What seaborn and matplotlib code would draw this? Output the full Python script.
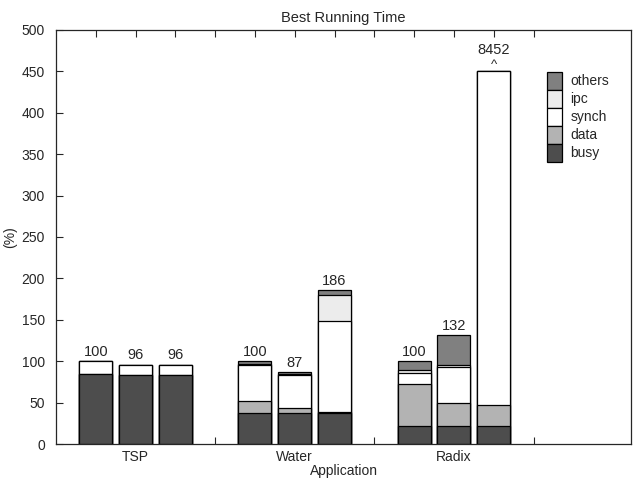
import matplotlib
matplotlib.use("Agg")
import matplotlib.pyplot as plt
import seaborn as sns
import numpy as np
import pandas as pd
from matplotlib.patches import Patch

apps = ["TSP", "Water", "Radix"]
slots = [1, 2, 3, 5, 6, 7, 9, 10, 11]
busy = [85, 83, 83, 37, 37, 37, 22, 22, 22]
data = [0, 0, 0, 15, 6, 2, 51, 28, 25]
synch = [15, 13, 13, 43, 40, 110, 13, 43, 8405]
ipc = [0, 0, 0, 2, 1, 31, 3, 3, 0]
others = [0, 0, 0, 3, 3, 6, 11, 36, 0]
totals = ["100", "96", "96", "100", "87", "186", "100", "132", "8452"]
cap = 450

sns.set_style("ticks")
plt.rcParams["font.family"] = ["Liberation Sans", "DejaVu Sans"]

fig = plt.figure(figsize=(6.35, 4.83), dpi=100)
ax = fig.add_axes([56/635, 1-444/483, (631-56)/635, (444-30)/483])

df = pd.DataFrame({"slot": slots, "busy": busy, "data": data, "synch": synch,
                   "ipc": ipc, "others": others})
layers = ["busy", "data", "synch", "ipc", "others"]
colors = {"busy": "#4d4d4d", "data": "#b3b3b3", "synch": "#ffffff",
          "ipc": "#ececec", "others": "#808080"}
cum = df[layers].cumsum(axis=1).clip(upper=cap)

# draw from the top layer down so lower segments sit on top
for name in layers[::-1]:
    sns.barplot(x=df["slot"], y=cum[name], native_scale=True, width=0.83,
                color=colors[name], saturation=1, edgecolor="black",
                linewidth=0.9, errorbar=None, ax=ax)

tops = cum["others"].values
for s, t, lab in zip(slots, tops, totals):
    if lab == "8452":
        ax.annotate("^", (s, t), xytext=(0, 0), textcoords="offset points",
                    ha="center", va="bottom", fontsize=9.5)
        ax.annotate(lab, (s, t), xytext=(0, 10.5), textcoords="offset points",
                    ha="center", va="bottom", fontsize=10.5)
    else:
        ax.annotate(lab, (s, t), xytext=(0, 1.5), textcoords="offset points",
                    ha="center", va="bottom", fontsize=10.5)

ax.set_xlim(0, 14.45)
ax.set_ylim(0, 500)
ax.set_xticks(range(1, 13))
xlabels = [""] * 12
xlabels[1], xlabels[5], xlabels[9] = apps
ax.set_xticklabels(xlabels, fontsize=10)
ax.set_yticks(range(0, 501, 50))
ax.tick_params(axis="x", direction="in", top=True, bottom=True, length=5,
               pad=4, width=0.8)
ax.tick_params(axis="y", direction="in", left=True, right=False, length=5,
               pad=8, labelsize=10, width=0.8)
ax.set_axisbelow(True)
for sp in ax.spines.values():
    sp.set_visible(True)
    sp.set_linewidth(0.9)
ax.set_title("Best Running Time", fontsize=10.5, pad=6)
ax.set_xlabel("Application", fontsize=10, labelpad=0)
ax.set_ylabel("(%)", fontsize=10, labelpad=3)

handles = [Patch(facecolor=colors[n], edgecolor="black", linewidth=0.9)
           for n in layers[::-1]]
fig.legend(handles, layers[::-1], loc="upper left",
           bbox_to_anchor=(546.7/635, 1-71.7/483), frameon=False,
           handlelength=1.12, handleheight=1.62, labelspacing=0,
           handletextpad=0.6, borderpad=0, borderaxespad=0, fontsize=10)

fig.savefig("out.png", dpi=100)
